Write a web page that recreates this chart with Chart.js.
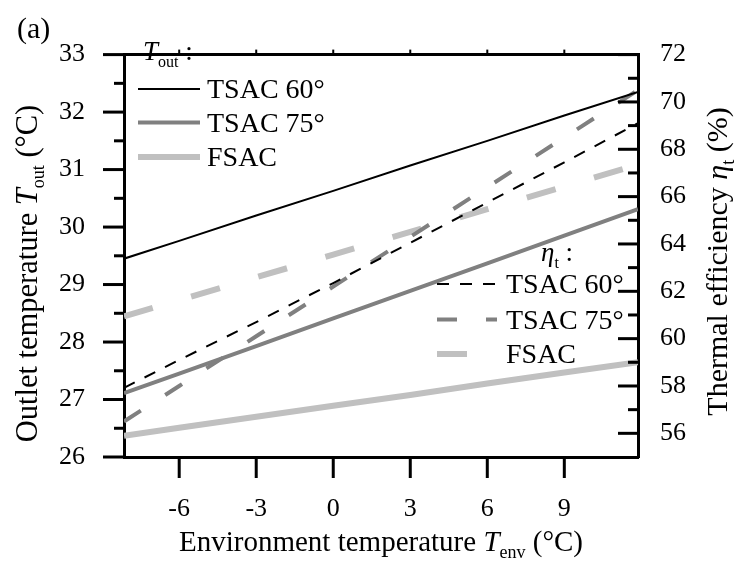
<!DOCTYPE html>
<html>
<head>
<meta charset="utf-8">
<script src="https://cdn.jsdelivr.net/npm/chart.js@4.4.1/dist/chart.umd.min.js"></script>
<style>
html, body { margin: 0; padding: 0; background: #fff; }
#wrap { width: 739px; height: 566px; }
</style>
</head>
<body>
<div id="wrap"><canvas id="chart" width="739" height="566"></canvas></div>
<script>
// environment temperature (x)
const envTemps = [-8.15, -6, -3, 0, 3, 6, 9, 11.87]

// outlet temperature (left axis, °C)
const toutTsac60 = [29.45, 29.76, 30.20, 30.63, 31.07, 31.50, 31.94, 32.35]
const toutTsac75 = [27.11, 27.45, 27.93, 28.41, 28.89, 29.37, 29.85, 30.31]
const toutFsac = [26.37, 26.51, 26.70, 26.89, 27.08, 27.28, 27.47, 27.65]

// thermal efficiency (right axis, %)
const etaTsac60 = [57.92, 59.10, 60.70, 62.35, 64.05, 65.75, 67.45, 69.10]
const etaTsac75 = [56.50, 58.00, 60.10, 62.20, 64.30, 66.40, 68.50, 70.50]
const etaFsac = [60.94, 61.63, 62.59, 63.55, 64.51, 65.47, 66.43, 67.35]

// tick labels
const xTicks = [-6, -3, 0, 3, 6, 9]
const leftTicks = [26, 27, 28, 29, 30, 31, 32, 33]
const rightTicks = [56, 58, 60, 62, 64, 66, 68, 70, 72]

const FONT = 'Liberation Serif'
const GRAY = '#808080'
const LIGHT = '#c0c0c0'

function toPoints(ys) {
    return envTemps.map((x, i) => ({ x: x, y: ys[i] }))
}

function f(size, style) {
    return (style ? style + ' ' : '') + size + 'px "' + FONT + '"'
}

// draw a run of text pieces (for italics and subscripts)
function drawParts(ctx, parts, x, y, align) {
    let total = 0
    for (let p of parts) {
        ctx.font = p.font
        p.w = ctx.measureText(p.t).width
        total += p.w
    }
    let cx = align === 'center' ? x - total / 2 : x
    for (let p of parts) {
        ctx.font = p.font
        ctx.fillText(p.t, cx, y + (p.dy || 0))
        cx += p.w
    }
}

function line(ctx, x1, y1, x2, y2) {
    ctx.beginPath()
    ctx.moveTo(x1, y1)
    ctx.lineTo(x2, y2)
    ctx.stroke()
}

const decorations = {
    id: 'decorations',
    afterDraw(chart) {
        const { ctx, chartArea, scales } = chart
        const { left, right, top, bottom } = chartArea
        ctx.save()
        ctx.strokeStyle = '#000'
        ctx.lineCap = 'butt'

        // tick marks
        ctx.lineWidth = 3
        for (let v of xTicks) {
            const px = scales.x.getPixelForValue(v)
            line(ctx, px, bottom, px, bottom + 21)
        }
        ctx.lineWidth = 2
        for (let v of xTicks) {
            const px = scales.x.getPixelForValue(v)
            line(ctx, px, top, px, top - 5)
        }
        ctx.lineWidth = 3
        for (let v = 26; v <= 33; v += 0.5) {
            const py = scales.y.getPixelForValue(v)
            const len = Number.isInteger(v) ? 21 : 10
            line(ctx, left - len, py, left, py)
        }
        for (let v = 56; v <= 72; v++) {
            const py = scales.y2.getPixelForValue(v)
            const len = v % 2 === 0 ? 20 : 10
            line(ctx, right - len, py, right, py)
        }

        ctx.fillStyle = '#000'
        ctx.textBaseline = 'alphabetic'

        // legends
        const ds = chart.data.datasets
        const drawSample = (d, x1, x2, y) => {
            ctx.save()
            ctx.strokeStyle = d.borderColor
            ctx.lineWidth = d.borderWidth
            ctx.setLineDash(d.borderDash || [])
            line(ctx, x1, y, x2, y)
            ctx.restore()
        }
        const names = ['TSAC 60°', 'TSAC 75°', 'FSAC']

        drawParts(ctx, [
            { t: 'T', font: f(27, 'italic') },
            { t: 'out', font: f(16), dy: 7 },
            { t: ' :', font: f(27) }
        ], 143, 60, 'left')
        const rows1 = [89, 122.5, 157]
        for (let i = 0; i < 3; i++) {
            drawSample(ds[i], 138, 200, rows1[i])
            ctx.font = f(28)
            ctx.fillText(names[i], 207, rows1[i] + 9)
        }

        drawParts(ctx, [
            { t: 'η', font: f(27, 'italic') },
            { t: 't', font: f(16), dy: 7 },
            { t: ' :', font: f(27) }
        ], 541, 261, 'left')
        const rows2 = [284, 319.5, 354]
        for (let i = 0; i < 3; i++) {
            drawSample(ds[i + 3], 437, 497, rows2[i])
            ctx.font = f(28)
            ctx.fillText(names[i], 506, rows2[i] + 9)
        }

        // panel label
        ctx.font = f(30)
        ctx.fillText('(a)', 17, 38)

        // axis titles
        drawParts(ctx, [
            { t: 'Environment temperature ', font: f(29) },
            { t: 'T', font: f(29, 'italic') },
            { t: 'env', font: f(18), dy: 7 },
            { t: ' (°C)', font: f(29) }
        ], (left + right) / 2, 551, 'center')

        ctx.save()
        ctx.translate(37, 273.5)
        ctx.rotate(-Math.PI / 2)
        drawParts(ctx, [
            { t: 'Outlet temperature ', font: f(30.5) },
            { t: 'T', font: f(30.5, 'italic') },
            { t: 'out', font: f(18), dy: 7 },
            { t: ' (°C)', font: f(30.5) }
        ], 0, 0, 'center')
        ctx.restore()

        ctx.save()
        ctx.translate(727, 261.5)
        ctx.rotate(-Math.PI / 2)
        drawParts(ctx, [
            { t: 'Thermal efficiency ', font: f(30) },
            { t: 'η', font: f(30, 'italic') },
            { t: 't', font: f(18), dy: 7 },
            { t: ' (%)', font: f(30) }
        ], 0, 0, 'center')
        ctx.restore()

        ctx.restore()
    }
}

const tickFont = { family: FONT, size: 26 }
const axisBorder = { display: true, color: '#000', width: 3 }

function makeChart() {
    const ctx = document.getElementById('chart').getContext('2d')
    return new Chart(ctx, {
        type: 'line',
        data: {
            datasets: [
                { label: 'Tout TSAC 60°', data: toutTsac60, yAxisID: 'y', borderColor: '#000', borderWidth: 2 },
                { label: 'Tout TSAC 75°', data: toutTsac75, yAxisID: 'y', borderColor: GRAY, borderWidth: 4 },
                { label: 'Tout FSAC', data: toutFsac, yAxisID: 'y', borderColor: LIGHT, borderWidth: 6 },
                { label: 'eta TSAC 60°', data: etaTsac60, yAxisID: 'y2', borderColor: '#000', borderWidth: 2, borderDash: [12, 11] },
                { label: 'eta TSAC 75°', data: etaTsac75, yAxisID: 'y2', borderColor: GRAY, borderWidth: 4, borderDash: [20, 29] },
                { label: 'eta FSAC', data: etaFsac, yAxisID: 'y2', borderColor: LIGHT, borderWidth: 6, borderDash: [30, 40] }
            ].map(d => Object.assign(d, { data: toPoints(d.data), pointRadius: 0, fill: false, tension: 0 }))
        },
        options: {
            responsive: false,
            animation: false,
            devicePixelRatio: 1,
            layout: { padding: { top: 22, left: 0, right: 0, bottom: 0 } },
            plugins: { legend: { display: false }, tooltip: { enabled: false } },
            scales: {
                x: {
                    type: 'linear',
                    position: 'bottom',
                    min: -8.15,
                    max: 11.87,
                    afterBuildTicks: s => { s.ticks = xTicks.map(v => ({ value: v })) },
                    afterFit: s => { s.height = 109 },
                    grid: { display: false, drawTicks: false },
                    border: axisBorder,
                    ticks: { font: tickFont, color: '#000', padding: 37, maxRotation: 0 }
                },
                xTop: {
                    type: 'linear',
                    position: 'top',
                    min: -8.15,
                    max: 11.87,
                    afterFit: s => { s.height = 0 },
                    grid: { display: false, drawTicks: false },
                    border: axisBorder,
                    ticks: { display: false }
                },
                y: {
                    type: 'linear',
                    position: 'left',
                    min: 26,
                    max: 33,
                    afterBuildTicks: s => { s.ticks = leftTicks.map(v => ({ value: v })) },
                    afterFit: s => { s.width = 124 },
                    grid: { display: false, drawTicks: false },
                    border: axisBorder,
                    ticks: { font: tickFont, color: '#000', padding: 39 }
                },
                y2: {
                    type: 'linear',
                    position: 'right',
                    min: 55,
                    max: 72,
                    afterBuildTicks: s => { s.ticks = rightTicks.map(v => ({ value: v })) },
                    afterFit: s => { s.width = 101 },
                    grid: { display: false, drawTicks: false },
                    border: axisBorder,
                    ticks: { font: tickFont, color: '#000', padding: 22 }
                }
            }
        },
        plugins: [decorations]
    })
}

// make sure the serif font is ready before the canvas draws any text
Promise.all([
    document.fonts.load(f(24), '0123456789'),
    document.fonts.load(f(24, 'italic'), 'Tη')
]).catch(() => {}).then(() => makeChart())
</script>
</body>
</html>
